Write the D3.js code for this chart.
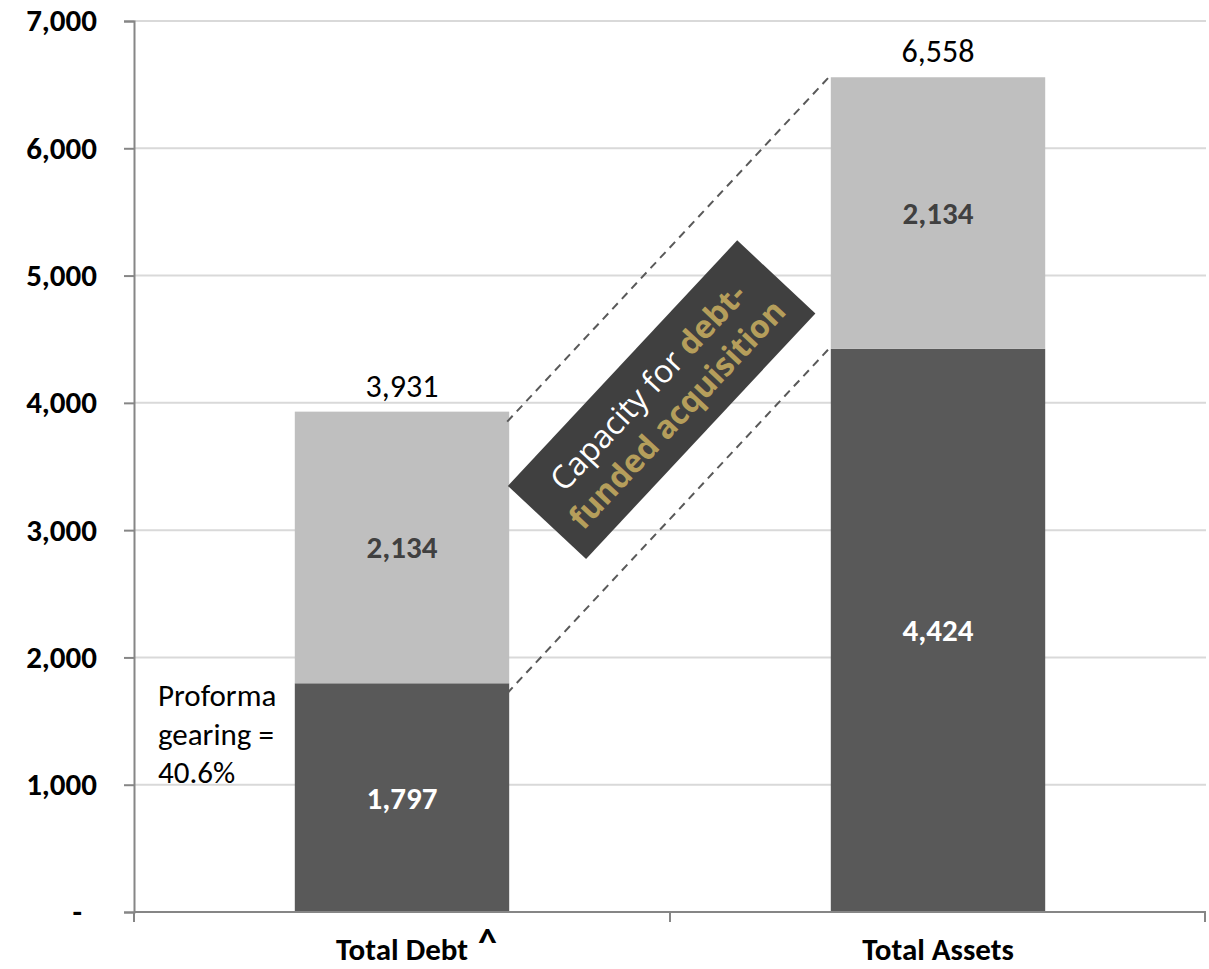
<!DOCTYPE html>
<html>
<head>
<meta charset="utf-8">
<script src="https://cdn.jsdelivr.net/npm/d3@7"></script>
<style>
  body { margin: 0; background: #fff; }
  svg text { font-family: Carlito, Calibri, "Open Sans", sans-serif; }
</style>
</head>
<body>
<svg id="chart" width="1209" height="969"></svg>
<script>
// chart values
const categories = ["Total Debt", "Total Assets"];
const baseValues = [1797, 4424];
const upperValues = [2134, 2134];
const totals = [3931, 6558];
const yTicks = [0, 1000, 2000, 3000, 4000, 5000, 6000, 7000];

const svg = d3.select("#chart");
const margin = { top: 21, right: 3, bottom: 57, left: 134 };
const width = 1209, height = 969;

const x = d3.scaleBand()
  .domain(categories)
  .range([margin.left, width - margin.right])
  .paddingInner(0.6)
  .paddingOuter(0.3);

const y = d3.scaleLinear()
  .domain([0, 7000])
  .range([height - margin.bottom, margin.top]);

// gridlines
svg.append("g")
  .selectAll("line")
  .data(yTicks.slice(1))
  .enter().append("line")
    .attr("x1", margin.left).attr("x2", width - margin.right)
    .attr("y1", d => y(d)).attr("y2", d => y(d))
    .attr("stroke", "#d9d9d9").attr("stroke-width", 2);

// y axis
const yAxis = svg.append("g")
  .attr("transform", "translate(" + margin.left + ",0)")
  .call(d3.axisLeft(y).tickValues(yTicks).tickSize(10).tickPadding(27)
    .tickFormat(d => d === 0 ? "-" : d3.format(",")(d)));
yAxis.select(".domain").attr("stroke", "#868686").attr("stroke-width", 2);
yAxis.selectAll(".tick line").attr("stroke", "#868686").attr("stroke-width", 2);
yAxis.selectAll(".tick text")
  .attr("font-size", 31).attr("font-weight", "bold").attr("fill", "#000")
  .attr("dx", d => d === 0 ? -15 : 0)
  .style("font-family", "Carlito, Calibri, 'Open Sans', sans-serif");

// bars
const stack = categories.map((c, i) => ({ cat: c, base: baseValues[i], upper: upperValues[i], total: totals[i] }));

const barG = svg.append("g");
barG.selectAll(".base")
  .data(stack).enter().append("rect")
    .attr("x", d => x(d.cat)).attr("width", x.bandwidth())
    .attr("y", d => y(d.base)).attr("height", d => y(0) - y(d.base))
    .attr("fill", "#595959");
barG.selectAll(".upper")
  .data(stack).enter().append("rect")
    .attr("x", d => x(d.cat)).attr("width", x.bandwidth())
    .attr("y", d => y(d.base + d.upper)).attr("height", d => y(d.base) - y(d.base + d.upper))
    .attr("fill", "#bfbfbf");

// x axis
const xAxisG = svg.append("g");
xAxisG.append("line")
  .attr("x1", margin.left).attr("x2", width - margin.right)
  .attr("y1", y(0)).attr("y2", y(0))
  .attr("stroke", "#868686").attr("stroke-width", 2);
const xTickPos = [margin.left, margin.left + (width - margin.right - margin.left) / 2, width - margin.right - 1];
xAxisG.selectAll(".xt")
  .data(xTickPos).enter().append("line")
    .attr("x1", d => d).attr("x2", d => d)
    .attr("y1", y(0)).attr("y2", y(0) + 10)
    .attr("stroke", "#868686").attr("stroke-width", 2);

xAxisG.selectAll(".xl")
  .data(categories).enter().append("text")
    .attr("x", d => x(d) + x.bandwidth() / 2)
    .attr("y", height - 9)
    .attr("text-anchor", "middle")
    .attr("font-size", 31).attr("font-weight", "bold").attr("fill", "#000")
    .text(d => d);
// superscript caret on Total Debt
svg.append("text")
  .attr("x", x(categories[0]) + x.bandwidth() / 2 + 76)
  .attr("y", height - 14)
  .attr("font-size", 38).attr("font-weight", "bold").attr("fill", "#000")
  .text("^");

// segment labels
barG.selectAll(".bl")
  .data(stack).enter().append("text")
    .attr("x", d => x(d.cat) + x.bandwidth() / 2)
    .attr("y", d => y(d.base / 2) + 11)
    .attr("text-anchor", "middle")
    .attr("font-size", 31).attr("font-weight", "bold").attr("fill", "#fff")
    .text(d => d3.format(",")(d.base));
barG.selectAll(".ul")
  .data(stack).enter().append("text")
    .attr("x", d => x(d.cat) + x.bandwidth() / 2)
    .attr("y", d => y(d.base + d.upper / 2) + 11)
    .attr("text-anchor", "middle")
    .attr("font-size", 31).attr("font-weight", "bold").attr("fill", "#404040")
    .text(d => d3.format(",")(d.upper));
barG.selectAll(".tl")
  .data(stack).enter().append("text")
    .attr("x", d => x(d.cat) + x.bandwidth() / 2)
    .attr("y", d => y(d.total) - 15)
    .attr("text-anchor", "middle")
    .attr("font-size", 32).attr("fill", "#000")
    .text(d => d3.format(",")(d.total));

// dashed connectors
const x0 = x(categories[0]) + x.bandwidth() - 2;
const x1 = x(categories[1]) - 2;
const connectors = [[totals[0], totals[1]], [baseValues[0], baseValues[1]]];
svg.append("g").selectAll("line")
  .data(connectors).enter().append("line")
    .attr("x1", x0).attr("y1", d => y(d[0]) + 10)
    .attr("x2", x1).attr("y2", d => y(d[1]))
    .attr("stroke", "#595959").attr("stroke-width", 2)
    .attr("stroke-dasharray", "8,6");

// rotated callout box
const angle = Math.atan2(y(totals[1]) - y(totals[0]) - 10, x1 - x0) * 180 / Math.PI;
const callout = svg.append("g")
  .attr("transform", "translate(662,400) rotate(" + angle + ")");
callout.append("rect")
  .attr("x", -168).attr("y", -54).attr("width", 336).attr("height", 107)
  .attr("fill", "#404040");
const t1 = callout.append("text")
  .attr("x", 0).attr("y", -8).attr("text-anchor", "middle")
  .attr("font-size", 32).style("font-family", "'Open Sans', sans-serif");
t1.append("tspan").attr("fill", "#fff").text("Capacity for ");
t1.append("tspan").attr("fill", "#b59e5b").attr("font-weight", "bold").text("debt-");
callout.append("text")
  .attr("x", 0).attr("y", 32).attr("text-anchor", "middle")
  .attr("font-size", 32).attr("font-weight", "bold").attr("fill", "#b59e5b")
  .style("font-family", "'Open Sans', sans-serif")
  .text("funded acquisition");

// proforma gearing note
const note = ["Proforma", "gearing =", "40.6%"];
svg.append("g").selectAll("text")
  .data(note).enter().append("text")
    .attr("x", 158)
    .attr("y", (d, i) => 706 + i * 38.5)
    .attr("font-size", 31).attr("fill", "#000")
    .text(d => d);
</script>
</body>
</html>
